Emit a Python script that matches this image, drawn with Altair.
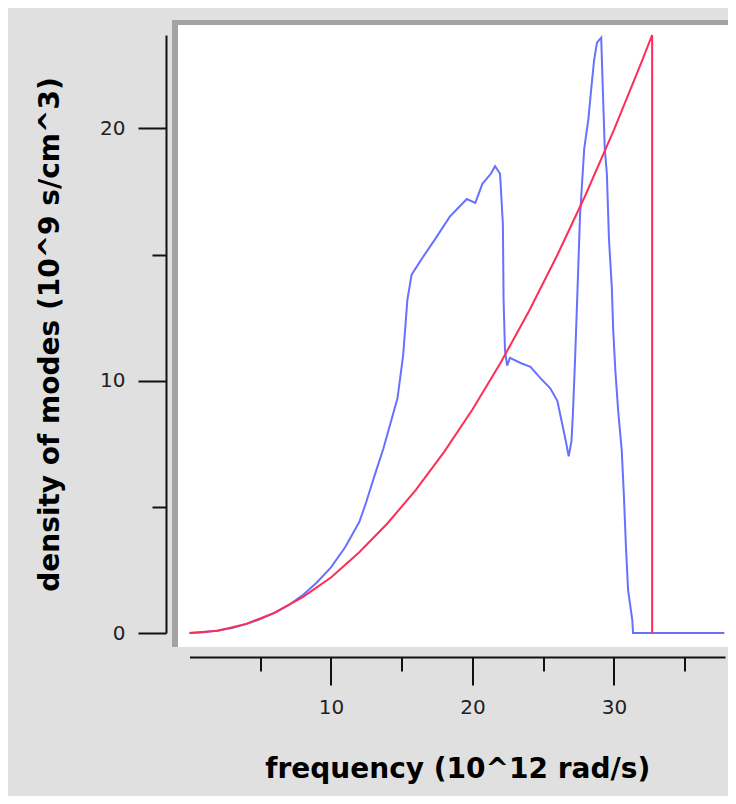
import altair as alt
import pandas as pd

# ---- data ----
blue_x = [0.0, 1, 2, 3, 4, 5, 6, 7, 8, 9, 10, 11, 12, 12.5, 13, 13.7, 14.2, 14.7,
          15.1, 15.4, 15.7, 16.5, 17.35, 18.4, 19.6, 20.2, 20.7, 21.3, 21.6, 21.95,
          22.15, 22.2, 22.3, 22.45, 22.65, 23.4, 24.1, 24.8, 25.5, 26.0, 26.3, 26.6,
          26.8, 27.0, 27.1, 27.25, 27.4, 27.6, 27.9, 28.2, 28.4, 28.6, 28.8, 29.1,
          29.2, 29.35, 29.5, 29.65, 29.85, 29.95, 30.1, 30.3, 30.55, 30.7, 30.85,
          31.0, 31.3, 31.35, 37.8]
blue_y = [0.0, 0.03, 0.1, 0.2, 0.35, 0.55, 0.8, 1.1, 1.5, 2.0, 2.6, 3.4, 4.4, 5.2,
          6.1, 7.3, 8.3, 9.3, 11.0, 13.2, 14.2, 14.9, 15.6, 16.5, 17.2, 17.05, 17.8,
          18.2, 18.5, 18.2, 16.2, 13.2, 11.2, 10.6, 10.9, 10.7, 10.55, 10.1, 9.7, 9.2,
          8.4, 7.6, 7.0, 7.6, 8.7, 10.8, 13.2, 16.5, 19.2, 20.4, 21.6, 22.7, 23.4,
          23.6, 21.8, 19.2, 18.2, 15.6, 13.7, 12.0, 10.4, 8.8, 7.25, 5.5, 3.4, 1.7,
          0.5, 0.0, 0.0]

red_x = [0.0, 2, 4, 6, 8, 10, 12, 14, 16, 18, 20, 22, 24, 26, 28, 30, 32, 32.7, 32.7]
red_y = [0.0, 0.09, 0.36, 0.8, 1.42, 2.2, 3.2, 4.35, 5.67, 7.18, 8.86, 10.72,
         12.76, 14.98, 17.37, 19.94, 22.69, 23.7, 0.0]

x_ticks = [5, 10, 15, 20, 25, 30, 35]
y_ticks = [0, 5, 10, 15, 20]
x_title = "frequency (10^12 rad/s)"
y_title = "density of modes (10^9 s/cm^3)"

W, H = 535.5, 598
PAD_L, PAD_T, PAD_R, PAD_B = 181.5, 27, 3, 163

blue = pd.DataFrame({"f": blue_x, "d": blue_y, "i": list(range(len(blue_x)))})
red = pd.DataFrame({"f": red_x, "d": red_y, "i": list(range(len(red_x)))})
one = pd.DataFrame({"k": [0]})

xscale = alt.Scale(domain=[0, 37.85], nice=False, zero=False)
yscale = alt.Scale(domain=[0, 23.7], nice=False, zero=False)

major_test = "datum.value % 10 === 0"

xaxis = alt.Axis(
    values=x_ticks, offset=24, grid=False,
    domainColor="#111111", domainWidth=2, tickColor="#111111", tickWidth=2,
    tickSize={"condition": {"test": major_test, "value": 28}, "value": 14},
    labelExpr=major_test + " ? datum.label : ''",
    labelFont="DejaVu Sans", labelFontSize=20, labelColor="#222222", labelPadding=12,
    labelFlush=False, labelOverlap=False,
    title=x_title, titleFont="DejaVu Sans", titleFontWeight="bold", titleFontSize=28,
    titleColor="#000000", titleY=120, titleBaseline="alphabetic",
)
yaxis = alt.Axis(
    values=y_ticks, offset=23.5, grid=False,
    domainColor="#111111", domainWidth=2, tickColor="#111111", tickWidth=2,
    tickSize={"condition": {"test": major_test, "value": 28}, "value": 14},
    labelExpr=major_test + " ? datum.label : ''",
    labelFont="DejaVu Sans", labelFontSize=20, labelColor="#222222", labelPadding=13,
    labelFlush=False, labelOverlap=False,
    title=y_title, titleFont="DejaVu Sans", titleFontWeight="bold", titleFontSize=28,
    titleColor="#000000", titleX=-108, titleBaseline="alphabetic",
)

box = alt.Chart(one).mark_rect(color="white").encode(
    x=alt.value(-11.5), x2=alt.value(W + PAD_R), y=alt.value(-10), y2=alt.value(612))
top_edge = alt.Chart(one).mark_rect(color="#a3a3a3").encode(
    x=alt.value(-17.5), x2=alt.value(W + PAD_R), y=alt.value(-15), y2=alt.value(-10))
left_edge = alt.Chart(one).mark_rect(color="#a3a3a3").encode(
    x=alt.value(-17.5), x2=alt.value(-11.5), y=alt.value(-15), y2=alt.value(612))

blue_line = alt.Chart(blue).mark_line(color="#6672ff", strokeWidth=2).encode(
    x=alt.X("f:Q", scale=xscale, axis=xaxis),
    y=alt.Y("d:Q", scale=yscale, axis=yaxis),
    order="i:Q",
)
red_line = alt.Chart(red).mark_line(color="#ff2d55", strokeWidth=2).encode(
    x=alt.X("f:Q", scale=xscale, axis=xaxis),
    y=alt.Y("d:Q", scale=yscale, axis=yaxis),
    order="i:Q",
)

chart = alt.layer(box, top_edge, left_edge, blue_line, red_line).properties(
    width=W, height=H, background="#e0e0e0",
    padding={"left": PAD_L, "top": PAD_T, "right": PAD_R, "bottom": PAD_B},
    autosize=alt.AutoSizeParams(type="none"),
).configure_view(strokeWidth=0)

chart.save("out.html", embed_options={"renderer": "svg", "actions": False})
